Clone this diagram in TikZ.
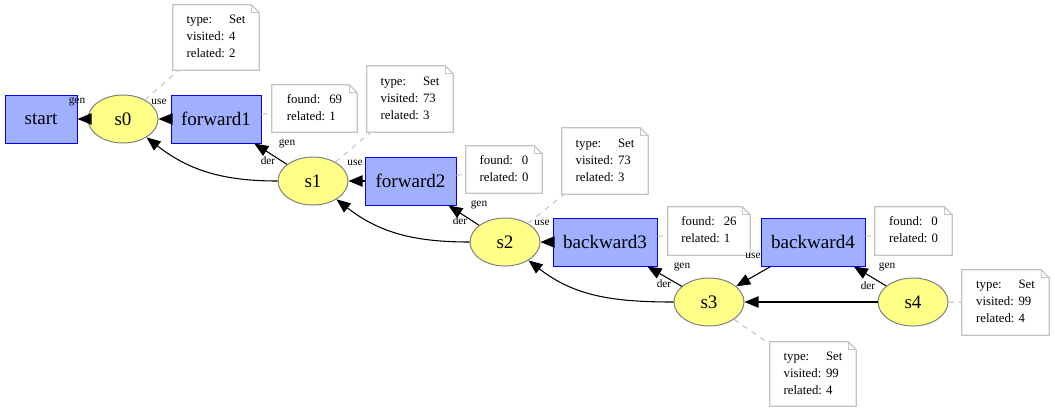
\documentclass[tikz,border=0pt]{standalone}
\usepackage{fontspec}
\setmainfont{Liberation Serif}
\usetikzlibrary{shapes.geometric,arrows.meta}
\definecolor{boxfill}{HTML}{A0B0FF}
\definecolor{ellfill}{HTML}{FFFF88}
\definecolor{notegray}{HTML}{C4C4C4}
\definecolor{ellgray}{HTML}{808080}
\tikzset{
  procbox/.style={rectangle, draw=blue, fill=boxfill, line width=0.75pt, inner sep=0pt,
    minimum height=36pt, font=\fontsize{14.3}{16}\selectfont},
  stateell/.style={ellipse, draw=ellgray, fill=ellfill, line width=0.75pt, inner sep=0pt,
    minimum width=52.5pt, minimum height=36pt, font=\fontsize{14.3}{16}\selectfont},
  notenode/.style={rectangle, inner sep=0pt, font=\fontsize{9.6}{12.75}\selectfont},
  notedraw/.style={draw=notegray, line width=0.9pt},
  elabel/.style={inner sep=0pt, font=\fontsize{8.5}{10}\selectfont},
  edgearrow/.style={-{Triangle[length=10.5pt,width=8.5pt]}, line width=0.8pt, black},
  notelink/.style={draw=notegray, dash pattern=on 4pt off 4pt, line width=0.8pt},
}
\newcommand\foldnote[1]{%
  \draw[notedraw] (#1.south west) -- (#1.south east) -- ([yshift=-6pt]#1.north east)
    -- ([xshift=-6pt]#1.north east) -- (#1.north west) -- cycle;
  \draw[notedraw] ([xshift=-6pt]#1.north east) |- ([yshift=-6pt]#1.north east);}
\newcommand\setnote[3]{\begin{tabular}{@{}l@{\hspace{3pt}}l@{}}type: & Set\\ visited: & #2\\ related: & #3\end{tabular}}
\newcommand\opnote[2]{\begin{tabular}{@{}l@{\hspace{3pt}}l@{}}found: & #1\\ related: & #2\end{tabular}}
\begin{document}
\begin{tikzpicture}[x=0.75pt,y=-0.75pt]
\useasboundingbox (0,0) rectangle (1055,412);
% nodes
\node[procbox, minimum width=54pt] (start) at (41,119) {start};
\node[stateell] (s0) at (123,119) {s0};
\node[procbox, minimum width=67.5pt] (forward1) at (216,119) {forward1};
\node[stateell] (s1) at (313,181) {s1};
\node[procbox, minimum width=68.25pt] (forward2) at (410.5,181) {forward2};
\node[stateell] (s2) at (505,242) {s2};
\node[procbox, minimum width=78pt] (backward3) at (605,242) {backward3};
\node[procbox, minimum width=78pt] (backward4) at (813,242) {backward4};
\node[stateell] (s3) at (709,302) {s3};
\node[stateell] (s4) at (913,302) {s4};
% notes
\node[notenode, minimum width=64.5pt, minimum height=48.75pt] (n0) at (216,37.5) {\setnote{}{4}{2}};
\node[notenode, minimum width=63.75pt, minimum height=35.25pt] (nf1) at (314.5,108.5) {\opnote{69}{1}};
\node[notenode, minimum width=64.5pt, minimum height=49.5pt] (n1) at (410,99) {\setnote{}{73}{3}};
\node[notenode, minimum width=57pt, minimum height=35.25pt] (nf2) at (504,169.5) {\opnote{0}{0}};
\node[notenode, minimum width=64.5pt, minimum height=49.5pt] (n2) at (605,161) {\setnote{}{73}{3}};
\node[notenode, minimum width=61.5pt, minimum height=36pt] (nb3) at (709,231) {\opnote{26}{1}};
\node[notenode, minimum width=57.75pt, minimum height=36pt] (nb4) at (913.5,231) {\opnote{0}{0}};
\node[notenode, minimum width=65.25pt, minimum height=48.75pt] (n4) at (1005.5,302.5) {\setnote{}{99}{4}};
\node[notenode, minimum width=64.5pt, minimum height=48pt] (n3) at (813,374) {\setnote{}{99}{4}};
\foreach \n in {n0,nf1,n1,nf2,n2,nb3,nb4,n4,n3} {\foldnote{\n}}
% note links
\draw[notelink] (s0) -- (n0);
\draw[notelink] (forward1) -- (nf1);
\draw[notelink] (s1) -- (n1);
\draw[notelink] (forward2) -- (nf2);
\draw[notelink] (s2) -- (n2);
\draw[notelink] (backward3) -- (nb3);
\draw[notelink] (backward4) -- (nb4);
\draw[notelink] (s4) -- (n4);
\draw[notelink] (s3) -- (n3);
% edges
\draw[edgearrow] (s0) -- (start);
\draw[edgearrow] (forward1) -- (s0);
\draw[edgearrow] (s1) to[out=180,in=-38] (s0);
\draw[edgearrow] (s1) -- (forward1);
\draw[edgearrow] (forward2) -- (s1);
\draw[edgearrow] (s2) to[out=180,in=-38] (s1);
\draw[edgearrow] (s2) -- (forward2);
\draw[edgearrow] (backward3) -- (s2);
\draw[edgearrow] (s3) to[out=180,in=-38] (s2);
\draw[edgearrow] (s3) -- (backward3);
\draw[edgearrow] (backward4) -- (s3);
\draw[edgearrow] (s4) -- (s3);
\draw[edgearrow] (s4) -- (backward4);
% edge labels
\node[elabel] (l1) at (77,102) {gen};
\node[elabel] (l2) at (159,102) {use};
\node[elabel] (l3) at (287,144) {gen};
\node[elabel] (l4) at (268,161) {der};
\node[elabel] (l5) at (355,163) {use};
\node[elabel] (l6) at (479,205) {gen};
\node[elabel] (l7) at (460,221) {der};
\node[elabel] (l8) at (542,223) {use};
\node[elabel] (l9) at (682,267) {gen};
\node[elabel] (l10) at (664,284) {der};
\node[elabel] (l11) at (753,256) {use};
\node[elabel] (l12) at (887,267) {gen};
\node[elabel] (l13) at (868,286) {der};
\end{tikzpicture}
\end{document}
